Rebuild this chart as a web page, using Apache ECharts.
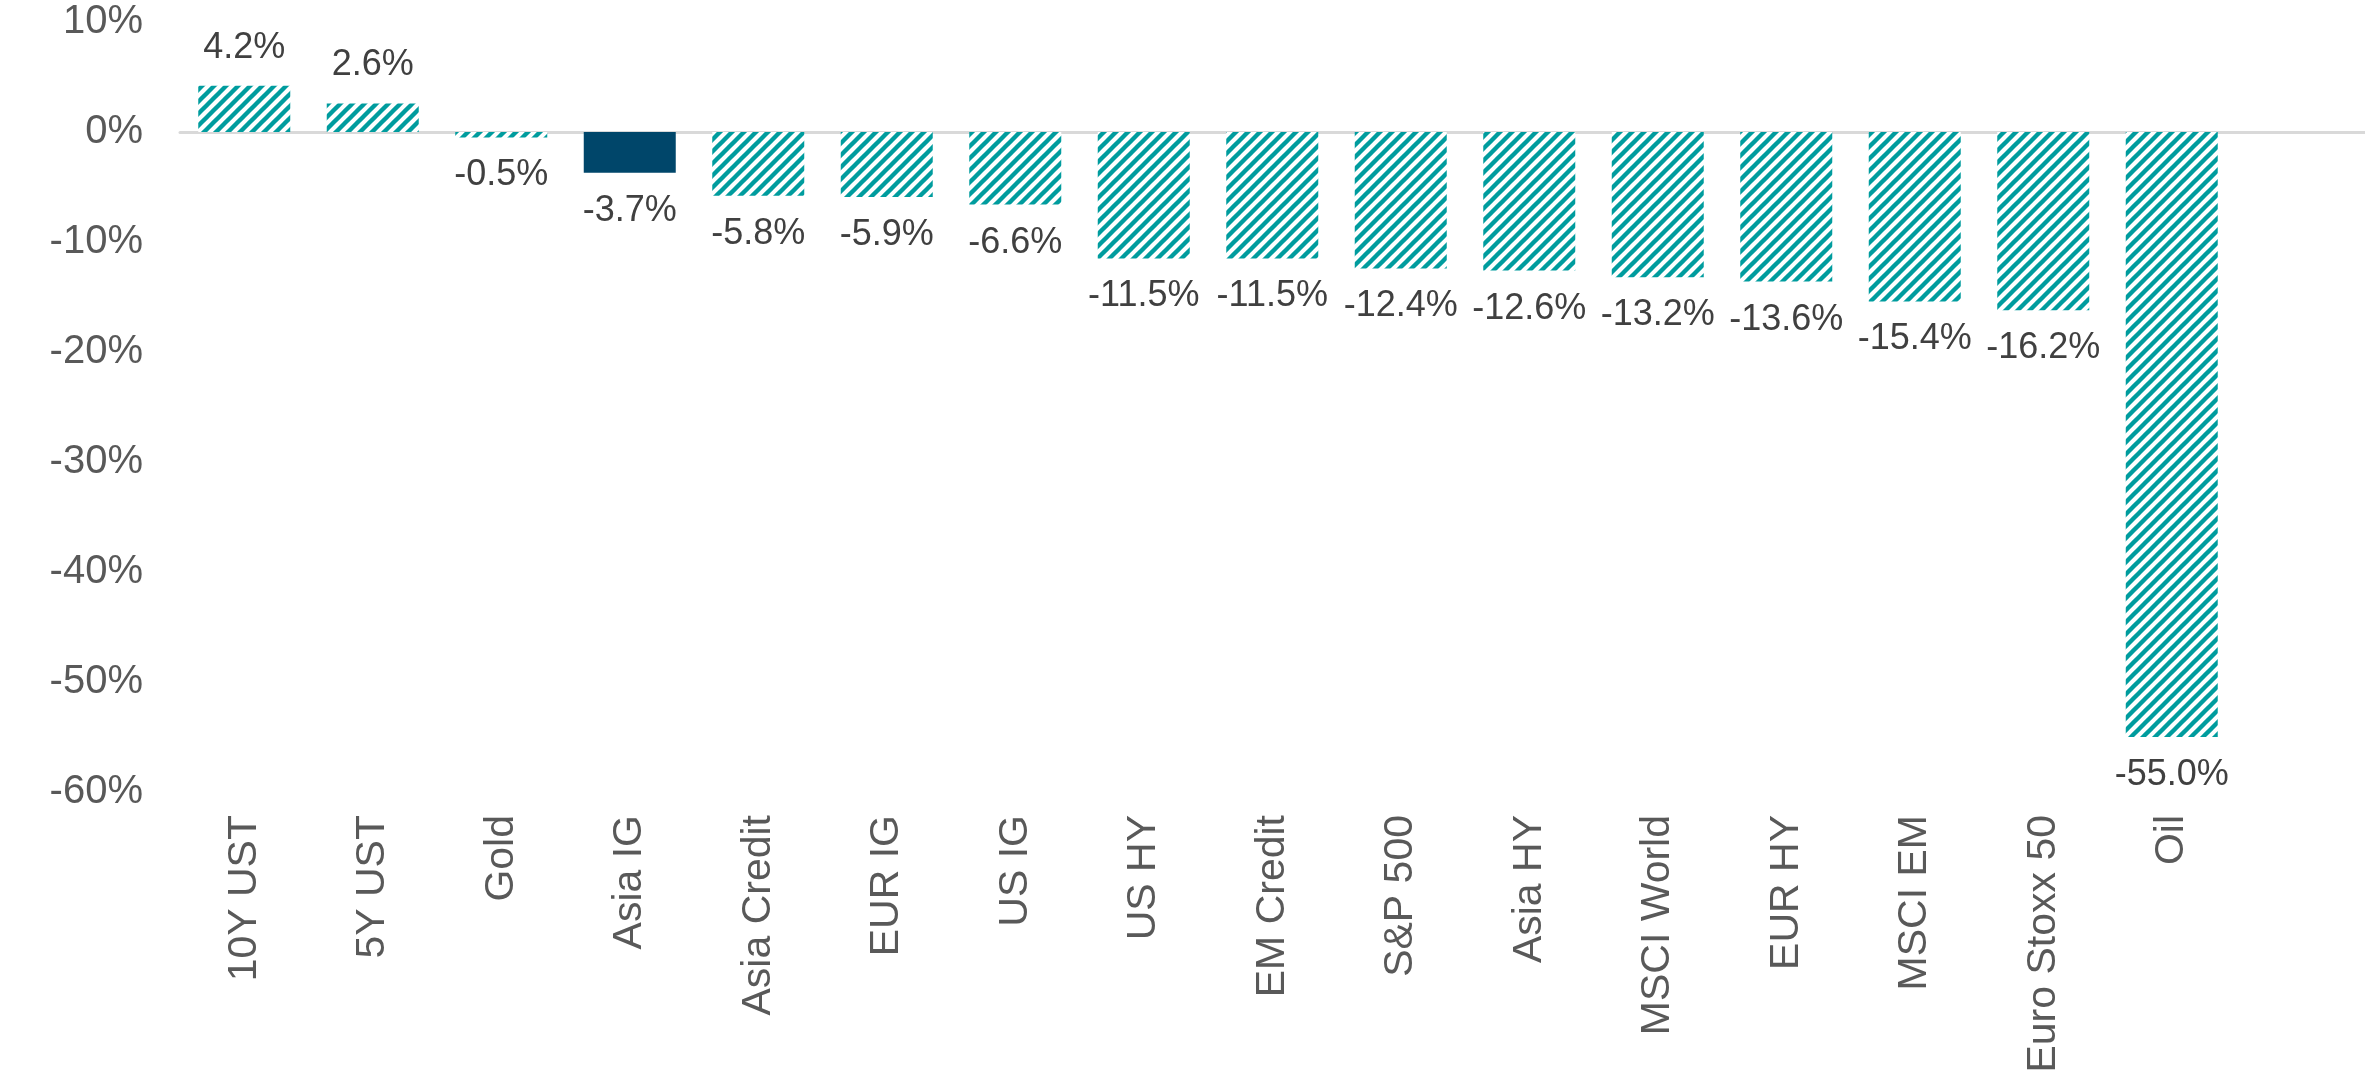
<!DOCTYPE html>
<html>
<head>
<meta charset="utf-8">
<script src="https://cdn.jsdelivr.net/npm/echarts@6/dist/echarts.min.js"></script>
<style>
html,body{margin:0;padding:0;background:#fff;}
#chart{width:2365px;height:1082px;}
</style>
</head>
<body>
<div id="chart"></div>
<script>
const categories = ['10Y UST','5Y UST','Gold','Asia IG','Asia Credit','EUR IG','US IG','US HY','EM Credit','S&P 500','Asia HY','MSCI World','EUR HY','MSCI EM','Euro Stoxx 50','Oil'];
const values = [4.2, 2.6, -0.5, -3.7, -5.8, -5.9, -6.6, -11.5, -11.5, -12.4, -12.6, -13.2, -13.6, -15.4, -16.2, -55.0];
const highlighted = ['Asia IG'];
const yTicks = { min: -60, max: 10, interval: 10 };

// striped pattern tile
const T = 12;
const tile = document.createElement('canvas');
tile.width = T; tile.height = T;
const ctx = tile.getContext('2d');
ctx.fillStyle = '#ffffff';
ctx.fillRect(0, 0, T, T);
ctx.strokeStyle = '#009c9e';
ctx.lineWidth = 4.4;
ctx.lineCap = 'square';
[[-T/2, T/2, T/2, -T/2], [0, T, T, 0], [T/2, 1.5*T, 1.5*T, T/2]].forEach(s => {
  ctx.beginPath(); ctx.moveTo(s[0], s[1]); ctx.lineTo(s[2], s[3]); ctx.stroke();
});
const stripe = { image: tile, repeat: 'repeat' };

const FONT = '"Liberation Sans", Arial, sans-serif';

const seriesData = values.map((v, i) => ({
  value: v,
  itemStyle: { color: highlighted.includes(categories[i]) ? '#00466a' : stripe },
  label: { position: v >= 0 ? 'top' : 'bottom', distance: v >= 0 ? 20 : 20 }
}));

const chart = echarts.init(document.getElementById('chart'), null, { renderer: 'canvas' });
chart.setOption({
  animation: false,
  grid: [
    { left: 180, right: 129, top: 22, bottom: 290, containLabel: false },
    { left: 180, right: 0, top: 22, bottom: 290, containLabel: false }
  ],
  xAxis: [
    {
      type: 'category', gridIndex: 0, data: categories,
      axisLine: { show: false, onZero: false },
      axisTick: { show: false },
      axisLabel: { rotate: 90, margin: 23, color: '#595959', fontSize: 41, fontFamily: FONT, interval: 0 },
      splitLine: { show: false }
    },
    {
      type: 'value', gridIndex: 1, min: 0, max: 1,
      axisLine: { show: true, onZero: true, lineStyle: { color: '#d9d9d9', width: 3 } },
      axisTick: { show: false }, axisLabel: { show: false }, splitLine: { show: false }
    }
  ],
  yAxis: [
    {
      type: 'value', gridIndex: 0, min: yTicks.min, max: yTicks.max, interval: yTicks.interval,
      axisLine: { show: false }, axisTick: { show: false }, splitLine: { show: false },
      axisLabel: { formatter: '{value}%', margin: 37, color: '#595959', fontSize: 40, fontFamily: FONT }
    },
    {
      type: 'value', gridIndex: 1, min: yTicks.min, max: yTicks.max, interval: yTicks.interval,
      show: false
    }
  ],
  series: [{
    type: 'bar', xAxisIndex: 0, yAxisIndex: 0,
    data: seriesData,
    barWidth: 92,
    label: {
      show: true, color: '#404040', fontSize: 36, fontFamily: FONT,
      formatter: p => p.value.toFixed(1) + '%'
    },
    emphasis: { disabled: true },
    z: 3
  }]
});
</script>
</body>
</html>
